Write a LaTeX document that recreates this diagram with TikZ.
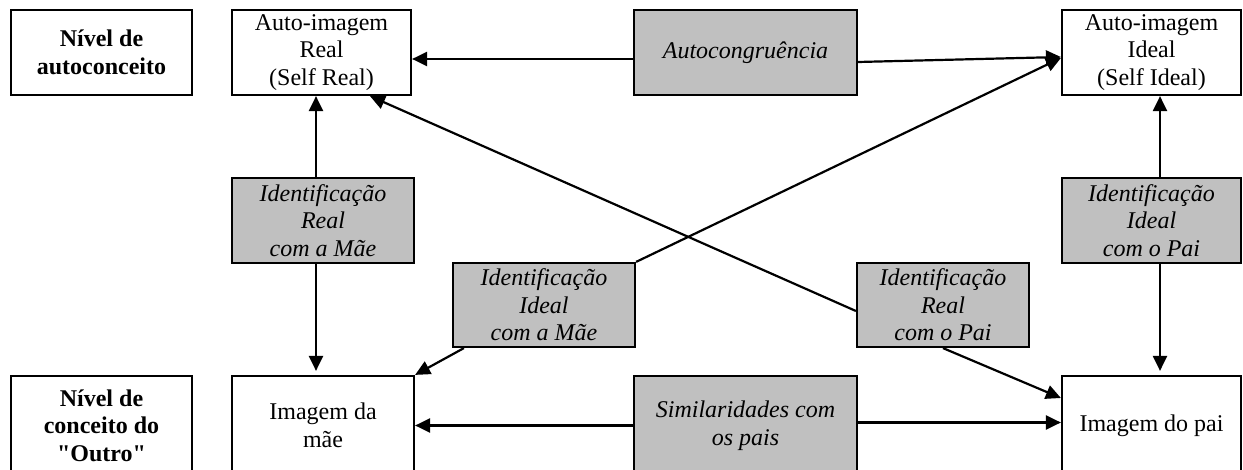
\documentclass[tikz,border=0pt]{standalone}
\usepackage{fontspec}
\setmainfont{Liberation Serif}[Ligatures=TeXOff]
\usetikzlibrary{arrows.meta}
\definecolor{boxgray}{HTML}{C0C0C0}
\tikzset{
  box/.style={draw=black, line width=1.1pt, align=center, inner sep=1pt,
              font=\fontsize{12}{13.8}\selectfont},
  wbox/.style={box, fill=white},
  gbox/.style={box, fill=boxgray, font=\fontsize{12}{13.8}\selectfont\itshape},
  bbox/.style={box, fill=white, font=\fontsize{12}{13.8}\selectfont\bfseries},
  conn/.style={line width=1.1pt, -{Triangle[length=7.5pt,width=7pt]}}
}
\begin{document}
\begin{tikzpicture}[x=0.5pt,y=-0.5pt]
\useasboundingbox (0,0) rectangle (1243,470);
\clip (0,0) rectangle (1243,470);
\fill[white] (0,0) rectangle (1243,470);
% top row
\node[bbox, minimum width=90.5pt, minimum height=42.5pt] (nivA) at (101.5,52.5) {Nível de\\autoconceito};
\node[wbox, minimum width=89.5pt, minimum height=42.5pt] (real) at (321.5,52.5) {Auto-imagem\\Real\\(Self Real)};
\node[gbox, minimum width=111.5pt, minimum height=42.5pt] (auto) at (745.5,52.5) {Autocongruência};
\node[wbox, minimum width=89.5pt, minimum height=42.5pt] (ideal) at (1151.5,52.5) {Auto-imagem\\Ideal\\(Self Ideal)};
% middle
\node[gbox, minimum width=91pt, minimum height=42.5pt] (irm) at (323,220.5) {Identificação\\Real\\com a Mãe};
\node[gbox, minimum width=91pt, minimum height=42pt] (iim) at (544,305) {Identificação\\Ideal\\com a Mãe};
\node[gbox, minimum width=86pt, minimum height=42pt] (irp) at (943,305) {Identificação\\Real\\com o Pai};
\node[gbox, minimum width=89.5pt, minimum height=42.5pt] (iip) at (1151.5,220.5) {Identificação\\Ideal\\com o Pai};
% bottom row
\node[bbox, minimum width=90.5pt, minimum height=49.5pt] (nivO) at (101.5,425.5) {Nível de\\conceito do\\"Outro"};
\node[wbox, minimum width=91pt, minimum height=49.5pt] (mae) at (323,425.5) {Imagem da\\mãe};
\node[gbox, minimum width=111.5pt, minimum height=49.5pt] (sim) at (745.5,425.5) {Similaridades com\\os pais};
\node[wbox, minimum width=89.5pt, minimum height=49.5pt] (pai) at (1151.5,425.5) {Imagem do pai};
% connectors
\draw[conn] ([yshift=-3.25pt]auto.west) -- ([yshift=-3.25pt]real.east);
\draw[conn] ([yshift=-4.75pt]auto.east) -- ([yshift=-2.25pt]ideal.west);
\draw[conn] ([xshift=-3.5pt]irm.north) -- ([xshift=-3.5pt]irm.north |- real.south);
\draw[conn] ([xshift=-3.5pt]irm.south) -- ([xshift=-3.5pt,yshift=2pt]mae.north);
\draw[conn] ([xshift=4.25pt]iip.north) -- ([xshift=4.25pt]iip.north |- ideal.south);
\draw[conn] ([xshift=4.25pt]iip.south) -- ([xshift=4.25pt,yshift=2pt]iip.south |- pai.north);
\draw[conn] (iim.north east) -- ([yshift=-2.75pt]ideal.west);
\draw[conn] ([xshift=6pt]iim.south west) -- (mae.north east);
\draw[conn] ([yshift=-3pt]irp.west) -- ([xshift=24.25pt]real.south);
\draw[conn] (irp.south) -- ([yshift=13.75pt]pai.west);
\draw[conn] (sim.west) -- (mae.east);
\draw[conn] ([yshift=1.5pt]sim.east) -- ([yshift=1.5pt]pai.west);
\end{tikzpicture}
\end{document}
